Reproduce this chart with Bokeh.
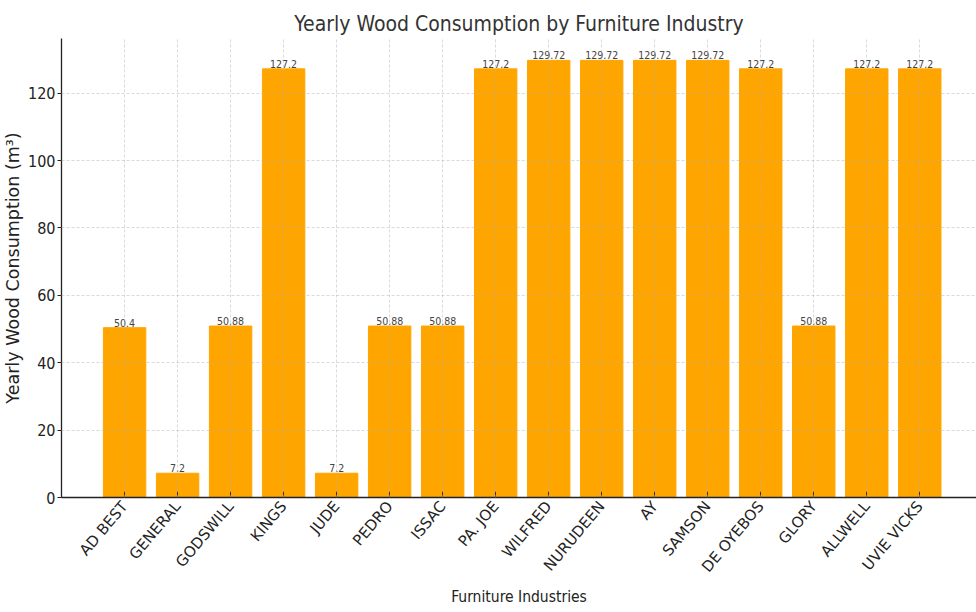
from bokeh.plotting import figure
from bokeh.models import ColumnDataSource, FixedTicker, LabelSet, Range1d
from bokeh.core.properties import value
from bokeh.embed import file_html
from bokeh.resources import INLINE
import math

# Yearly wood consumption (m³) per furniture industry
industries = ["AD BEST", "GENERAL", "GODSWILL", "KINGS", "JUDE", "PEDRO", "ISSAC",
              "PA. JOE", "WILFRED", "NURUDEEN", "AY", "SAMSON", "DE OYEBOS",
              "GLORY", "ALLWELL", "UVIE VICKS"]
consumption = [50.4, 7.2, 50.88, 127.2, 7.2, 50.88, 50.88, 127.2, 129.72, 129.72,
               129.72, 129.72, 127.2, 50.88, 127.2, 127.2]
y_ticks = [0, 20, 40, 60, 80, 100, 120]

NARROW = "DejaVu Sans Condensed, DejaVu Sans, sans-serif"
WIDE = "DejaVu Sans, sans-serif"

xs = list(range(len(industries)))
source = ColumnDataSource(dict(
    x=xs,
    value=consumption,
    label=[f"{v:g}" for v in consumption],
))

p = figure(width=976, height=612, output_backend="svg", toolbar_location=None,
           x_range=Range1d(-1.19, 16.07), y_range=Range1d(0, max(consumption) * 1.05),
           title="Yearly Wood Consumption by Furniture Industry",
           min_border_left=60, min_border_right=0, min_border_top=38, min_border_bottom=115)

p.vbar(x="x", top="value", width=0.8, source=source, color="#FFA500")

labels = LabelSet(x="x", y="value", text="label", source=source, text_align="center",
                  text_baseline="bottom", y_offset=1, text_font_size="10.5px",
                  text_color="#444444", text_font=value(NARROW))
p.add_layout(labels)

p.title.text_font = NARROW
p.title.text_font_size = "21px"
p.title.text_font_style = "normal"
p.title.text_color = "#333333"
p.title.align = "center"
p.title.offset = 0
p.title.standoff = 6

p.outline_line_color = None

for g in (p.xgrid, p.ygrid):
    g.grid_line_color = "#b0b0b0"
    g.grid_line_dash = "3 2"
    g.grid_line_width = 0.8
    g.grid_line_alpha = 0.6
    g.level = "overlay"

p.xaxis.ticker = FixedTicker(ticks=xs)
p.xaxis.major_label_overrides = {i: n for i, n in enumerate(industries)}
p.xaxis.major_label_orientation = math.radians(50)
p.yaxis.ticker = FixedTicker(ticks=y_ticks)

for ax in (p.xaxis, p.yaxis):
    ax.axis_line_color = "#222222"
    ax.axis_line_width = 1.3
    ax.major_tick_line_color = "#222222"
    ax.minor_tick_line_color = None
    ax.major_label_text_font = NARROW
    ax.major_label_text_color = "#222222"
    ax.axis_label_text_font = NARROW
    ax.axis_label_text_font_style = "normal"
    ax.axis_label_text_color = "#222222"

p.xaxis.major_tick_in = 6
p.xaxis.major_tick_out = 0
p.xaxis.major_label_text_font = WIDE
p.xaxis.major_label_text_font_size = "15px"
p.xaxis.major_label_standoff = 6
p.xaxis.axis_label = "Furniture Industries"
p.xaxis.axis_label_text_font_size = "15.5px"
p.xaxis.axis_label_standoff = 3

p.yaxis.major_tick_in = 0
p.yaxis.major_tick_out = 4
p.yaxis.major_label_text_font_size = "16px"
p.yaxis.major_label_standoff = 2
p.yaxis.axis_label = "Yearly Wood Consumption (m³)"
p.yaxis.axis_label_text_font = WIDE
p.yaxis.axis_label_text_font_size = "17.5px"
p.yaxis.axis_label_standoff = 2

open("out.html", "w").write(file_html(p, INLINE))
